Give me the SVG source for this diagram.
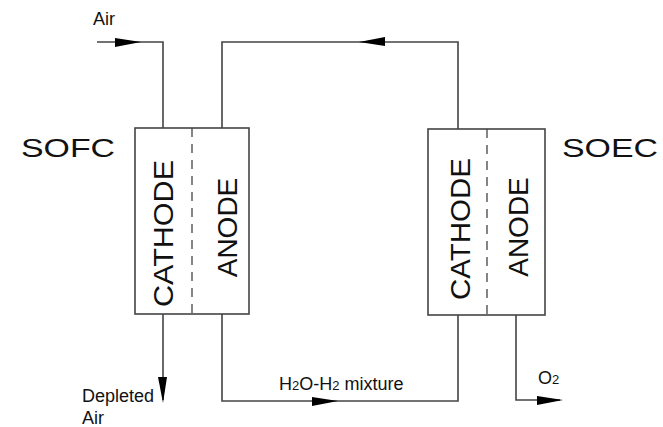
<svg xmlns="http://www.w3.org/2000/svg" xmlns:xlink="http://www.w3.org/1999/xlink" width="663" height="427" viewBox="0 0 663 427">
<style>
.box{fill:#fff;stroke:#444;stroke-width:1.6}
.dash{stroke:#444;stroke-width:1.3;stroke-dasharray:9,7;fill:none}
.ln{fill:none;stroke:#444;stroke-width:1.6}
.ah{fill:#000}
.t{font-family:"Liberation Sans",Arial,sans-serif;fill:#111}
.big{font-size:25px}
.rot{font-size:28px}
.sm{font-size:18px}
.sub{font-size:13px}
</style>
<defs>
<polygon id="ah" class="ah" points="-26,-4 0,0 -26,5"/>
</defs>
<g id="connectors">
<polyline class="ln" points="97,42 163,42 163,128"/>
<polyline class="ln" points="222,128 222,42 458,42 458,129"/>
<polyline class="ln" points="222,314 222,401 458,401 458,315"/>
<polyline class="ln" points="163,314 163,400"/>
<polyline class="ln" points="516,315 516,400 560,400"/>
<use xlink:href="#ah" transform="translate(141,42)"/>
<use xlink:href="#ah" transform="translate(359,42) rotate(180)"/>
<use xlink:href="#ah" transform="translate(338,401)"/>
<use xlink:href="#ah" transform="translate(563,400)"/>
<use xlink:href="#ah" transform="translate(163,403) rotate(90)"/>
</g>
<g id="sofc">
<rect class="box" x="135" y="128" width="114" height="186"/>
<line class="dash" x1="192" y1="128" x2="192" y2="314"/>
<text class="t rot" transform="translate(173,233.5) rotate(-90)" text-anchor="middle" textLength="147" lengthAdjust="spacingAndGlyphs">CATHODE</text>
<text class="t rot" transform="translate(237,227.5) rotate(-90)" text-anchor="middle">ANODE</text>
<text class="t big" x="21" y="157" textLength="94" lengthAdjust="spacingAndGlyphs">SOFC</text>
</g>
<g id="soec">
<rect class="box" x="428" y="129" width="117" height="186"/>
<line class="dash" x1="487" y1="129" x2="487" y2="315"/>
<text class="t rot" transform="translate(470,229) rotate(-90)" text-anchor="middle" textLength="142" lengthAdjust="spacingAndGlyphs">CATHODE</text>
<text class="t rot" transform="translate(528,227) rotate(-90)" text-anchor="middle">ANODE</text>
<text class="t big" x="562" y="157" textLength="96" lengthAdjust="spacingAndGlyphs">SOEC</text>
</g>
<g id="labels">
<text class="t sm" x="93" y="25">Air</text>
<text class="t sm" x="82" y="402">Depleted</text>
<text class="t sm" x="82" y="424">Air</text>
<text class="t sm" x="279" y="390">H<tspan class="sub">2</tspan>O-H<tspan class="sub">2</tspan> mixture</text>
<text class="t sm" x="538" y="384">O<tspan class="sub">2</tspan></text>
</g>
</svg>
